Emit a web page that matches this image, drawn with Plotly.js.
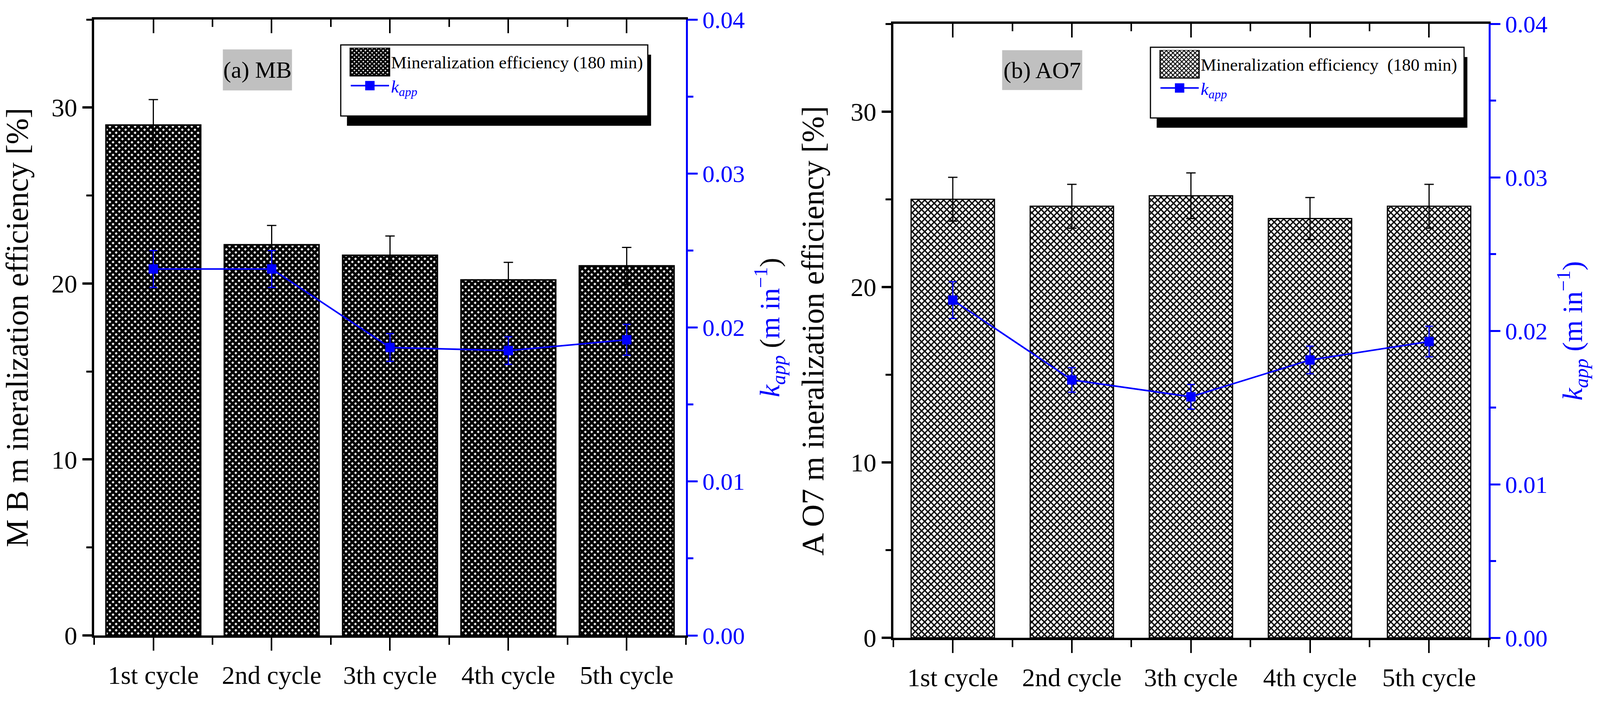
<!DOCTYPE html>
<html><head><meta charset="utf-8">
<script src="https://cdn.plot.ly/plotly-3.0.1.min.js"></script>
<style>html,body{margin:0;padding:0;background:#fff;overflow:hidden;}</style>
</head><body><div id="chart"></div>
<script>
// ---- data ----
const categories = ['1st cycle', '2nd cycle', '3th cycle', '4th cycle', '5th cycle'];
const mbMineralization = [29.0, 22.2, 21.6, 20.2, 21.0];
const mbMineralizationErr = [1.45, 1.1, 1.1, 1.0, 1.05];
const mbKapp = [0.0238, 0.0238, 0.0187, 0.0185, 0.0192];
const mbKappErr = [0.0012, 0.0012, 0.0009, 0.0009, 0.0010];
const ao7Mineralization = [25.0, 24.6, 25.2, 23.9, 24.6];
const ao7MineralizationErr = [1.25, 1.25, 1.3, 1.2, 1.25];
const ao7Kapp = [0.0220, 0.0168, 0.0157, 0.0181, 0.0193];
const ao7KappErr = [0.0012, 0.0008, 0.0008, 0.0009, 0.0010];
const leftTickVals = [0, 10, 20, 30];
const leftMinorVals = [5, 15, 25, 35];
const rightTickVals = [0, 0.01, 0.02, 0.03, 0.04];
const rightMinorVals = [0.005, 0.015, 0.025, 0.035];
const barName = 'Mineralization efficiency (180 min)';
const barNameB = 'Mineralization efficiency  (180 min)';
const kName = '<span style="color:#0000ff"><i>k</i><sub><i>app</i></sub></span>';

// ---- layout helpers (reference frame 4367 x 1800) ----
const RW = 4367, RH = 1800;
const W = window.innerWidth || RW, H = window.innerHeight || RH;
const S = W / RW;                 // horizontal scale of the viewport vs the reference
const px = x => x / RW;
const py = y => 1 - y / RH;
const idx = categories.map((_, i) => i);
const bounds = Array.from({length: categories.length + 1}, (_, i) => i - 0.5);
const FONT = 'Liberation Serif';
const BLUE = '#0000ff';
document.getElementById('chart').style.width = W + 'px';
document.getElementById('chart').style.height = H + 'px';

function barTrace(y, err, xa, ya, lg, name, width, sol, lw) {
  return {
    type: 'bar', x: idx, y: y, xaxis: xa, yaxis: ya, legend: lg, name: name, width: width,
    marker: {color: 'white', line: {color: 'black', width: lw},
      pattern: {shape: 'x', bgcolor: 'white', fgcolor: 'black', size: 11.4, solidity: sol, fillmode: 'replace'}},
    error_y: {type: 'data', array: err, visible: true, color: 'black', thickness: 3, width: 12},
    hoverinfo: 'skip'
  };
}
function kTrace(y, err, xa, ya, lg) {
  return {
    type: 'scatter', mode: 'lines+markers', x: idx, y: y, xaxis: xa, yaxis: ya, legend: lg, name: kName,
    line: {color: BLUE, width: 4}, marker: {symbol: 'square', size: 24, color: BLUE},
    error_y: {type: 'data', array: err, visible: true, color: BLUE, thickness: 3, width: 10},
    hoverinfo: 'skip'
  };
}
function ghost(y, xa, ya) {
  return {type: 'scatter', mode: 'markers', x: idx, y: y, xaxis: xa, yaxis: ya,
    marker: {opacity: 0}, showlegend: false, hoverinfo: 'skip'};
}

const data = [
  barTrace(mbMineralization, mbMineralizationErr, 'x', 'y', 'legend', barName, 0.8, 0.8, 4),
  kTrace(mbKapp, mbKappErr, 'x', 'y2', 'legend'),
  ghost(mbMineralization, 'x3', 'y'),
  barTrace(ao7Mineralization, ao7MineralizationErr, 'x2', 'y3', 'legend2', barNameB, 0.7, 0.5, 3),
  kTrace(ao7Kapp, ao7KappErr, 'x2', 'y4', 'legend2'),
  ghost(ao7Mineralization, 'x4', 'y3')
];

function xBottom(dom, anchor) {
  return {domain: dom, anchor: anchor, range: [-0.5, 4.5], tickmode: 'array', tickvals: idx, ticktext: categories,
    ticks: 'outside', ticklen: 33, tickwidth: 4, tickcolor: 'black', showline: true, linewidth: 6, linecolor: 'black',
    showgrid: false, zeroline: false, tickfont: {family: FONT, size: 66, color: 'black'}, ticklabelstandoff: 6,
    minor: {tickvals: bounds, ticks: 'outside', ticklen: 18, tickwidth: 4, tickcolor: 'black', showgrid: false}};
}
function xTop(dom, over, anchor) {
  return {domain: dom, overlaying: over, anchor: anchor, side: 'top', range: [-0.5, 4.5], tickmode: 'array', tickvals: idx,
    showticklabels: false, ticks: 'inside', ticklen: 35, tickwidth: 4, tickcolor: 'black', showline: true, linewidth: 6,
    linecolor: 'black', showgrid: false, zeroline: false,
    minor: {tickvals: bounds, ticks: 'inside', ticklen: 19, tickwidth: 4, tickcolor: 'black', showgrid: false}};
}
function yLeft(dom, anchor, title) {
  return {domain: dom, anchor: anchor, range: [0, 35], tickmode: 'array', tickvals: leftTickVals,
    ticks: 'outside', ticklen: Math.round(26 * S), tickwidth: 6, tickcolor: 'black', showline: true, linewidth: 6, linecolor: 'black',
    showgrid: false, zeroline: false, tickfont: {family: FONT, size: 66, color: 'black'},
    minor: {tickvals: leftMinorVals, ticks: 'outside', ticklen: Math.round(15 * S), tickwidth: 5, tickcolor: 'black', showgrid: false},
    title: {text: title, font: {family: FONT, size: 80, color: 'black'}, standoff: 45}};
}
function yRight(dom, over, anchor, title) {
  return {domain: dom, overlaying: over, anchor: anchor, side: 'right', range: [0, 0.04], tickmode: 'array',
    tickvals: rightTickVals, tickformat: '.2f', ticks: 'outside', ticklen: Math.round(27 * S), tickwidth: 5, tickcolor: BLUE,
    showline: true, linewidth: 5, linecolor: BLUE, showgrid: false, zeroline: false,
    tickfont: {family: FONT, size: 62, color: BLUE},
    minor: {tickvals: rightMinorVals, ticks: 'outside', ticklen: Math.round(15 * S), tickwidth: 5, tickcolor: BLUE, showgrid: false},
    title: {text: title, font: {family: FONT, size: 72, color: BLUE}, standoff: 40}};
}

const domXa = [px(257), px(1872)], domYa = [py(1627), py(50)];
const domXb = [px(2438), px(4063)], domYb = [py(1633), py(61)];

function legendBox(x0, y0, x1, y1, dx, dy) {
  return [
    {type: 'rect', xref: 'paper', yref: 'paper', x0: px(x0 + dx), x1: px(x1 + dx - 8), y0: py(y1 + dy), y1: py(y0 + dy),
      fillcolor: 'black', line: {width: 0}, layer: 'above'},
    {type: 'rect', xref: 'paper', yref: 'paper', x0: px(x0), x1: px(x1), y0: py(y1), y1: py(y0),
      fillcolor: 'white', line: {color: 'black', width: 3}, layer: 'above'}
  ];
}
function legendCfg(x, y) {
  return {x: px(x), y: py(y), xanchor: 'left', yanchor: 'top', bgcolor: 'rgba(0,0,0,0)', borderwidth: 0,
    font: {family: FONT, size: 45, color: 'black'}, itemwidth: Math.round(104 * S), traceorder: 'normal', itemsizing: 'trace'};
}

const layout = {
  width: W, height: H, margin: {l: 0, r: 0, t: 0, b: 0}, paper_bgcolor: 'white', plot_bgcolor: 'rgba(0,0,0,0)',
  font: {family: FONT, color: 'black'}, bargap: 0.2, showlegend: true,
  xaxis: xBottom(domXa, 'y'),
  xaxis3: xTop(domXa, 'x', 'y'),
  yaxis: yLeft(domYa, 'x', 'M B m ineralization efficiency [%]'),
  yaxis2: yRight(domYa, 'y', 'x', '<i>k</i><sub><i>app</i></sub> <span style="color:black">(</span>m in<sup>−1</sup><span style="color:black">)</span>'),
  xaxis2: xBottom(domXb, 'y3'),
  xaxis4: xTop(domXb, 'x2', 'y3'),
  yaxis3: yLeft(domYb, 'x2', 'A O7 m ineralization efficiency [%]'),
  yaxis4: yRight(domYb, 'y3', 'x2', '<i>k<sub>app</sub></i> (m in<sup>−1</sup>)'),
  legend: legendCfg(952, 122),
  legend2: legendCfg(3162, 128),
  shapes: [].concat(legendBox(930, 115, 1768, 297, 17, 25), legendBox(3140, 121, 3996, 302, 17, 25)),
  annotations: [
    {text: '(a) MB', xref: 'paper', yref: 'paper', x: px(703), y: py(179), xanchor: 'center', yanchor: 'middle',
      showarrow: false, bgcolor: '#c0c0c0', width: Math.round(188 * S), height: 104, borderpad: 0,
      font: {family: FONT, size: 60, color: 'black'}},
    {text: '(b) AO7', xref: 'paper', yref: 'paper', x: px(2845), y: py(179), xanchor: 'center', yanchor: 'middle',
      showarrow: false, bgcolor: '#c0c0c0', width: Math.round(217 * S), height: 101, borderpad: 0,
      font: {family: FONT, size: 60, color: 'black'}}
  ]
};

Plotly.newPlot('chart', data, layout, {staticPlot: true, displayModeBar: false}).then(gd => {
  // enlarge legend keys to the size used in the reference
  const hw = Math.round(53 * S), hh = 36, mk = 12;
  gd.querySelectorAll('.legendpoints path').forEach(p => {
    const d = p.getAttribute('d') || '';
    if (d.indexOf('M6,6H-6V-6H6Z') === 0) {
      p.setAttribute('d', 'M' + hw + ',' + hh + 'H-' + hw + 'V-' + hh + 'H' + hw + 'Z');
    } else if (/^M(\d+(\.\d+)?),\1H-\1V-\1H\1Z$/.test(d)) {
      p.setAttribute('d', 'M' + mk + ',' + mk + 'H-' + mk + 'V-' + mk + 'H' + mk + 'Z');
    }
  });
});
</script></body></html>
